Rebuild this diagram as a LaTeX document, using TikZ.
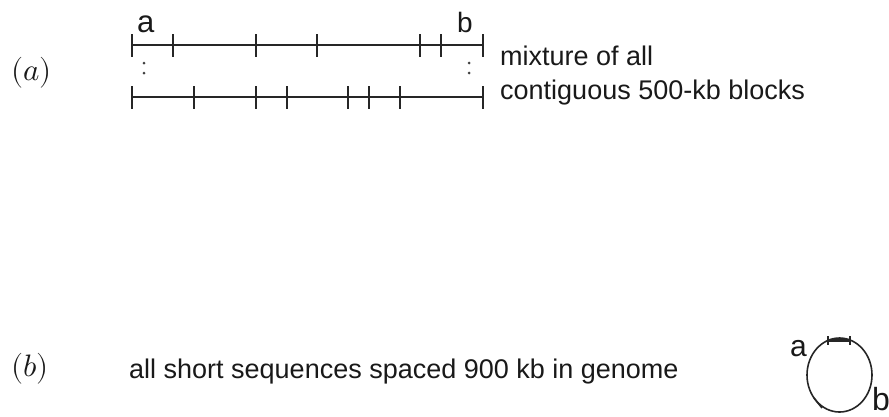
\documentclass[tikz,border=0pt]{standalone}
\usepackage{fontspec}
\setmainfont{Liberation Sans}
\usepackage{unicode-math}
\setmathfont{Latin Modern Math}
\begin{document}
\begin{tikzpicture}[x=1pt,y=-1pt,
  seg/.style={line width=1.8pt,color=black!85},
  tickmark/.style={line width=1.6pt,color=black!85},
  lbl/.style={inner sep=0pt,text=black!90,font=\fontsize{27}{32}\selectfont},
  panel/.style={inner sep=0pt,text=black!90,font=\fontsize{31}{34}\selectfont},
  dotmark/.style={fill=black!75,draw=none}]
\useasboundingbox (0,0) rectangle (889,416);
% panel (a)
\node[panel,anchor=base west] (pa) at (11,80) {$(a)$};
\coordinate (t0) at (132,45);
\coordinate (t1) at (483,45);
\draw[seg] (t0) -- (t1);
\foreach \x in {132,173,256,317,420,441,483}
  \draw[tickmark] (\x,34) -- (\x,57);
\coordinate (u0) at (132,97);
\coordinate (u1) at (483,97);
\draw[seg] (u0) -- (u1);
\foreach \x in {132,194,256,287,348,369,400,483}
  \draw[tickmark] (\x,86) -- (\x,109);
\node[lbl,anchor=base west,font=\fontsize{31}{34}\selectfont] (la) at (137,32) {a};
\node[lbl,anchor=base west,font=\fontsize{28}{32}\selectfont] (lb) at (457,32) {b};
\foreach \x in {144,469} {
  \fill[dotmark] (\x,63) circle (1.5);
  \fill[dotmark] (\x,73) circle (1.5);
}
\node[lbl,anchor=base west] (mix) at (500,65) {mixture of all};
\node[lbl,anchor=base west] (cont) at (500,99) {contiguous 500-kb blocks};
% panel (b)
\node[panel,anchor=base west] (pb) at (11,376) {$(b)$};
\node[lbl,anchor=base west] (seq) at (129,378) {all short sequences spaced 900 kb in genome};
\coordinate (cc) at (839.5,375);
\draw[seg,line width=1.6pt] (cc) ellipse [x radius=32.5, y radius=37];
\draw[line width=2.8pt,color=black!85] (828,340.5) -- (850,340.5);
\draw[tickmark] (828,336) -- (828,345);
\draw[tickmark] (850,336) -- (850,345);
\draw[tickmark] (814,398) -- (822,408);
\node[lbl,anchor=base west,font=\fontsize{30}{32}\selectfont] (ca) at (790,356) {a};
\node[lbl,anchor=base west,font=\fontsize{32}{34}\selectfont] (cb) at (872,410) {b};
\end{tikzpicture}
\end{document}
